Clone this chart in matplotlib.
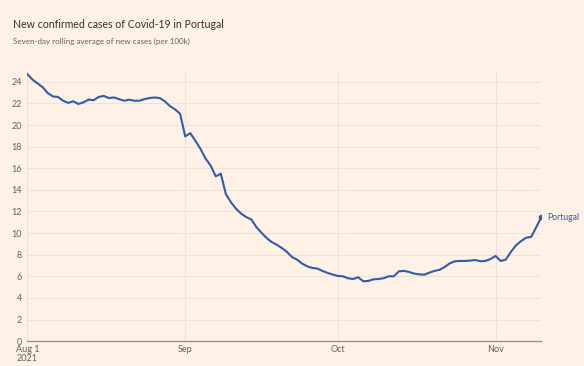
import pandas as pd
import matplotlib.pyplot as plt
import matplotlib.transforms as mtransforms

plt.rcParams['font.family'] = ['Lato', 'DejaVu Sans']

# seven-day rolling average of new cases per 100k, Portugal, 1 Aug - 10 Nov 2021
aug = [24.7, 24.2, 23.85, 23.5, 22.95, 22.65, 22.6, 22.25, 22.05, 22.2,
       21.95, 22.1, 22.35, 22.3, 22.6, 22.7, 22.5, 22.55, 22.4, 22.25,
       22.35, 22.25, 22.25, 22.4, 22.5, 22.55, 22.5, 22.2, 21.75, 21.45,
       21.05]
sep = [18.95, 19.25, 18.55, 17.8, 16.9, 16.25, 15.25, 15.5, 13.6, 12.85,
       12.25, 11.8, 11.48, 11.26, 10.55, 10.03, 9.54, 9.17, 8.92, 8.62,
       8.25, 7.78, 7.54, 7.17, 6.92, 6.77, 6.71, 6.49, 6.31, 6.16]
oct_ = [6.03, 6.0, 5.82, 5.75, 5.91, 5.54, 5.57, 5.72, 5.75, 5.82,
        6.0, 6.0, 6.46, 6.5, 6.4, 6.25, 6.18, 6.15, 6.34, 6.5,
        6.6, 6.86, 7.2, 7.39, 7.42, 7.42, 7.45, 7.51, 7.39, 7.42,
        7.6]
nov = [7.88, 7.42, 7.54, 8.25, 8.86, 9.26, 9.57, 9.65, 10.55, 11.48]

values = aug + sep + oct_ + nov
dates = pd.date_range("2021-08-01", periods=len(values), freq="D")

y_ticks = list(range(0, 25, 2))
x_ticks = ["2021-08-01", "2021-09-01", "2021-10-01", "2021-11-01"]
x_tick_labels = ["Aug 1", "Sep", "Oct", "Nov"]

BG = "#FFF1E5"
BLUE = "#2F5DA6"
GRID = "#EDE2D8"
TEXT = "#66605C"

fig = plt.figure(figsize=(5.84, 3.66), dpi=100, facecolor=BG)
ax = fig.add_axes([0.047, 0.068, 0.88, 0.735], facecolor=BG)

ax.plot(dates, values, color=BLUE, linewidth=1.5, solid_joinstyle="round", zorder=3)
ax.plot(dates[-1], values[-1], "o", color=BLUE, markersize=3, zorder=4)
ax.annotate("Portugal", (dates[-1], values[-1]), xytext=(4, 0),
            textcoords="offset points", va="center", ha="left",
            color=BLUE, fontsize=6.2, annotation_clip=False)

ax.set_xlim(dates[0], dates[-1])
ax.set_ylim(0, 24.9)
ax.set_yticks(y_ticks)
ax.set_xticks(pd.to_datetime(x_ticks))
ax.set_xticklabels(x_tick_labels, ha="center")

# year under the first month label
trans = mtransforms.blended_transform_factory(ax.transData, ax.transAxes)
ax.text(dates[0], -0.066, "2021", transform=trans, ha="center", va="center",
        fontsize=6.5, color=TEXT)

ax.grid(True, color=GRID, linewidth=0.8, zorder=0)
for s in ["top", "right", "left"]:
    ax.spines[s].set_visible(False)
ax.spines["bottom"].set_color("#9A918A")
ax.spines["bottom"].set_linewidth(1.0)
ax.tick_params(axis="both", length=0, labelsize=6.5, labelcolor=TEXT)
ax.tick_params(axis="y", pad=4)
ax.tick_params(axis="x", pad=3)

fig.text(0.022, 0.932, "New confirmed cases of Covid-19 in Portugal",
         fontsize=7.6, color="#33302E", va="center")
fig.text(0.022, 0.886, "Seven-day rolling average of new cases (per 100k)",
         fontsize=5.8, color=TEXT, va="center")

plt.savefig("out.png", dpi=100, facecolor=BG)
